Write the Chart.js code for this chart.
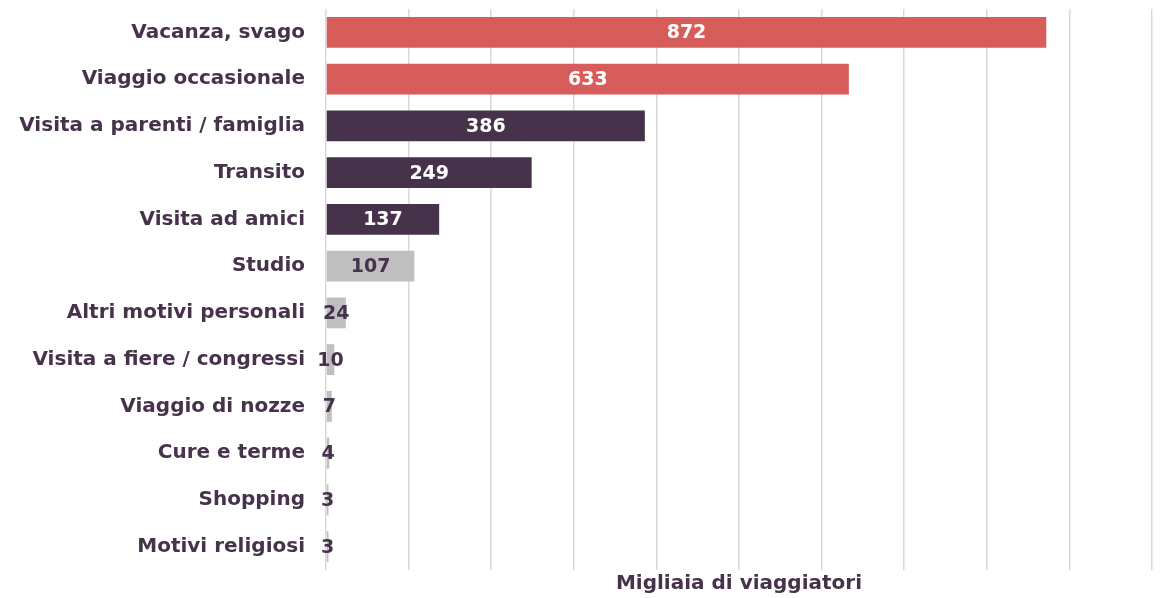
<!DOCTYPE html>
<html>
<head>
<meta charset="utf-8">
<script src="https://cdn.jsdelivr.net/npm/chart.js@4"></script>
<style>
  html, body { margin: 0; padding: 0; background: #fff; }
  #wrap { width: 1160px; height: 598px; }
</style>
</head>
<body>
<div id="wrap"><canvas id="motivi"></canvas></div>
<script>
const categories = ['Vacanza, svago', 'Viaggio occasionale', 'Visita a parenti / famiglia', 'Transito',
    'Visita ad amici', 'Studio', 'Altri motivi personali', 'Visita a fiere / congressi',
    'Viaggio di nozze', 'Cure e terme', 'Shopping', 'Motivi religiosi']
const viaggiatori = [872, 633, 386, 249, 137, 107, 24, 10, 7, 4, 3, 3]
const gruppo = ['top', 'top', 'mid', 'mid', 'mid', 'low', 'low', 'low', 'low', 'low', 'low', 'low']
const xTicks = [0, 100, 200, 300, 400, 500, 600, 700, 800, 900, 1000]

const TEXT = '#46324a'
const FONT = "'DejaVu Sans', 'Open Sans', sans-serif"
let barColors = {top: '#d75d5b', mid: '#46324a', low: '#bfbfbf'}
let labelColors = {top: '#ffffff', mid: '#ffffff', low: TEXT}

// etichette con i valori al centro delle barre
const valueLabels = {
    id: 'valueLabels',
    afterDatasetsDraw(chart) {
        let ctx = chart.ctx
        let meta = chart.getDatasetMeta(0)
        ctx.save()
        ctx.font = "bold 19px " + FONT
        ctx.textAlign = 'center'
        ctx.textBaseline = 'middle'
        meta.data.forEach((bar, i) => {
            let cx = (bar.x + bar.base) / 2
            ctx.fillStyle = labelColors[gruppo[i]]
            ctx.fillText(String(viaggiatori[i]), cx, bar.y + 1)
        })
        ctx.restore()
    }
}

new Chart(document.getElementById('motivi'), {
    type: 'bar',
    data: {
        labels: categories,
        datasets: [{
            data: viaggiatori,
            backgroundColor: gruppo.map(g => barColors[g]),
            barPercentage: 0.66,
            categoryPercentage: 1
        }]
    },
    options: {
        indexAxis: 'y',
        responsive: true,
        maintainAspectRatio: false,
        animation: false,
        layout: {padding: {top: 9, right: 8, bottom: 2, left: 0}},
        plugins: {legend: {display: false}, tooltip: {enabled: false}},
        scales: {
            x: {
                min: 0,
                max: 1000,
                afterBuildTicks: s => { s.ticks = xTicks.map(v => ({value: v})) },
                ticks: {display: false},
                border: {display: false},
                grid: {color: '#d9d9d9', lineWidth: 1.5, drawTicks: false},
                title: {
                    display: true,
                    text: 'Migliaia di viaggiatori',
                    color: TEXT,
                    font: {family: FONT, size: 20, weight: 'bold'},
                    padding: {top: 2, bottom: 0}
                }
            },
            y: {
                afterFit: s => {
                    s.width = 326
                    s.paddingTop = 0
                    s.paddingBottom = 0
                },
                grid: {display: false},
                border: {display: false},
                ticks: {
                    color: TEXT,
                    padding: 13,
                    font: {family: FONT, size: 20, weight: 'bold'}
                }
            }
        }
    },
    plugins: [valueLabels]
})
</script>
</body>
</html>
